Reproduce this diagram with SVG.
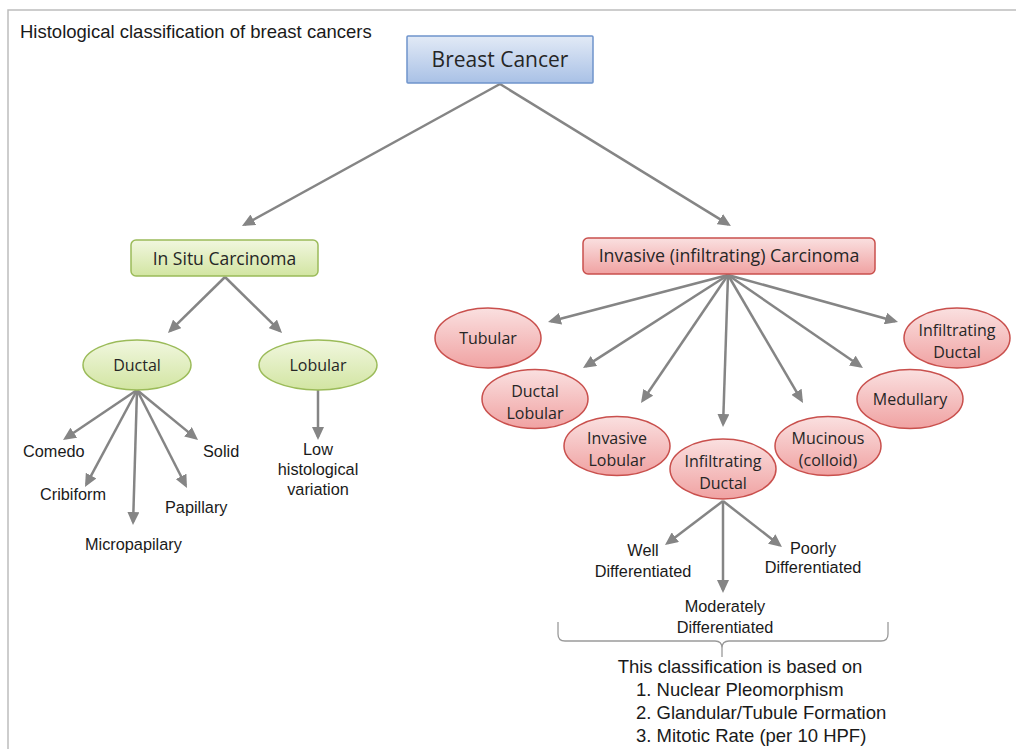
<svg xmlns="http://www.w3.org/2000/svg" width="1016" height="749" viewBox="0 0 1016 749">
<defs>
<linearGradient id="gBlue" x1="0" y1="0" x2="0" y2="1"><stop offset="0" stop-color="#e2eaf6"/><stop offset="1" stop-color="#a9c1e6"/></linearGradient>
<linearGradient id="gGreen" x1="0" y1="0" x2="0" y2="1"><stop offset="0" stop-color="#f1f7df"/><stop offset="1" stop-color="#d2e5a2"/></linearGradient>
<linearGradient id="gPink" x1="0" y1="0" x2="0" y2="1"><stop offset="0" stop-color="#fae0e0"/><stop offset="1" stop-color="#f0a2a2"/></linearGradient>
<marker id="ah" markerUnits="userSpaceOnUse" markerWidth="14" markerHeight="12" refX="10" refY="6" orient="auto">
<path d="M0,0 L13,6 L0,12 z" fill="#858585"/>
</marker>
<style>
.blue{fill:url(#gBlue);stroke:#6f94cc;stroke-width:1.5}
.green{fill:url(#gGreen);stroke:#9bbb59;stroke-width:1.5}
.pink{fill:url(#gPink);stroke:#c9504d;stroke-width:1.5}
.nt{font-family:"Open Sans","Noto Sans",sans-serif;fill:#262626;text-anchor:middle}
.lb{font-family:"Liberation Sans",Arial,sans-serif;fill:#1a1a1a;font-size:16.3px}
.mid{text-anchor:middle}
.conn line{stroke:#858585;stroke-width:2.5;marker-end:url(#ah)}
</style>
</defs>
<rect width="1016" height="749" fill="#ffffff"/>
<path d="M8,749 V10 H1016" fill="none" stroke="#bdbdbd" stroke-width="1.5"/>
<text x="20" y="38" class="lb" style="font-size:18.5px">Histological classification of breast cancers</text>

<g id="connectors" class="conn">
<line x1="500" y1="84" x2="244.6" y2="224.6"/>
<line x1="500" y1="84" x2="728.4" y2="224.4"/>
<line x1="225" y1="277" x2="170.1" y2="330.9"/>
<line x1="225" y1="277" x2="279.9" y2="330.9"/>
<line x1="137" y1="390" x2="65.5" y2="438.3"/>
<line x1="137" y1="390" x2="86.4" y2="484.4"/>
<line x1="137" y1="390" x2="133.1" y2="522"/>
<line x1="137" y1="390" x2="185.6" y2="485.3"/>
<line x1="137" y1="390" x2="195.7" y2="438.1"/>
<line x1="318" y1="390" x2="318" y2="437"/>
<line x1="728" y1="275" x2="550.9" y2="321.2"/>
<line x1="728" y1="275" x2="585.5" y2="366.4"/>
<line x1="728" y1="275" x2="642.7" y2="400.5"/>
<line x1="728" y1="275" x2="723.1" y2="424"/>
<line x1="728" y1="275" x2="801.5" y2="400.4"/>
<line x1="728" y1="275" x2="860.5" y2="366.3"/>
<line x1="728" y1="275" x2="895.1" y2="321.2"/>
<line x1="723" y1="501" x2="667.4" y2="543.2"/>
<line x1="723" y1="501" x2="723" y2="590"/>
<line x1="723" y1="501" x2="779.6" y2="545.2"/>
</g>

<g id="breast-cancer">
<rect x="407" y="36" width="186" height="47" rx="1" class="blue"/>
<text x="500" y="67" class="nt" style="font-size:21px">Breast Cancer</text>
</g>
<g id="in-situ">
<rect x="131" y="240" width="187" height="36" rx="5" class="green"/>
<text x="224.5" y="265" class="nt" style="font-size:17.5px">In Situ Carcinoma</text>
</g>
<g id="invasive">
<rect x="583" y="238" width="292" height="36" rx="5" class="pink"/>
<text x="729" y="262" class="nt" style="font-size:17.8px">Invasive (infiltrating) Carcinoma</text>
</g>
<g id="ductal">
<ellipse cx="137" cy="365" rx="54" ry="25" class="green"/>
<text x="137" y="371" class="nt" style="font-size:16px">Ductal</text>
</g>
<g id="lobular">
<ellipse cx="318" cy="365" rx="59" ry="25" class="green"/>
<text x="318" y="371" class="nt" style="font-size:16px">Lobular</text>
</g>
<g id="tubular">
<ellipse cx="488" cy="338" rx="53" ry="30" class="pink"/>
<text x="488" y="344" class="nt" style="font-size:16px">Tubular</text>
</g>
<g id="ductal-lobular">
<ellipse cx="535" cy="399" rx="53" ry="29.5" class="pink"/>
<text x="535" y="397" class="nt" style="font-size:16px">Ductal</text>
<text x="535" y="419" class="nt" style="font-size:16px">Lobular</text>
</g>
<g id="invasive-lobular">
<ellipse cx="617" cy="446" rx="53" ry="29.5" class="pink"/>
<text x="617" y="444" class="nt" style="font-size:16px">Invasive</text>
<text x="617" y="466" class="nt" style="font-size:16px">Lobular</text>
</g>
<g id="infiltrating-ductal">
<ellipse cx="723" cy="469" rx="53" ry="30" class="pink"/>
<text x="723" y="467" class="nt" style="font-size:16px">Infiltrating</text>
<text x="723" y="489" class="nt" style="font-size:16px">Ductal</text>
</g>
<g id="mucinous">
<ellipse cx="828" cy="446" rx="53" ry="29.5" class="pink"/>
<text x="828" y="444" class="nt" style="font-size:16px">Mucinous</text>
<text x="828" y="466" class="nt" style="font-size:16px">(colloid)</text>
</g>
<g id="medullary">
<ellipse cx="910" cy="399" rx="53" ry="29.5" class="pink"/>
<text x="910" y="405" class="nt" style="font-size:16px">Medullary</text>
</g>
<g id="infiltrating-ductal-2">
<ellipse cx="957" cy="338" rx="53" ry="30" class="pink"/>
<text x="957" y="336" class="nt" style="font-size:16px">Infiltrating</text>
<text x="957" y="358" class="nt" style="font-size:16px">Ductal</text>
</g>

<g id="ductal-subtypes">
<text x="23" y="457" class="lb">Comedo</text>
<text x="40" y="500" class="lb">Cribiform</text>
<text x="85" y="550" class="lb">Micropapilary</text>
<text x="165" y="513" class="lb">Papillary</text>
<text x="203" y="457" class="lb">Solid</text>
</g>
<g id="lobular-note">
<text x="318" y="455" class="lb mid">Low</text>
<text x="318" y="475" class="lb mid">histological</text>
<text x="318" y="495" class="lb mid">variation</text>
</g>
<g id="well">
<text x="643" y="556" class="lb mid">Well</text>
<text x="643" y="577" class="lb mid">Differentiated</text>
</g>
<g id="poorly">
<text x="813" y="554" class="lb mid">Poorly</text>
<text x="813" y="573" class="lb mid">Differentiated</text>
</g>
<g id="moderately">
<text x="725" y="612" class="lb mid">Moderately</text>
<text x="725" y="633" class="lb mid">Differentiated</text>
</g>
<path id="brace" d="M558,622 V634 Q558,641 565,641 H715 Q722,641 722,648 V657 M722,648 Q722,641 729,641 H881 Q888,641 888,634 V622" fill="none" stroke="#9a9a9a" stroke-width="1.3"/>
<g id="basis-note" class="lb" style="font-size:18.5px">
<text x="740" y="673" class="mid">This classification is based on</text>
<text x="636" y="696">1. Nuclear Pleomorphism</text>
<text x="636" y="719">2. Glandular/Tubule Formation</text>
<text x="636" y="742">3. Mitotic Rate (per 10 HPF)</text>
</g>
</svg>
